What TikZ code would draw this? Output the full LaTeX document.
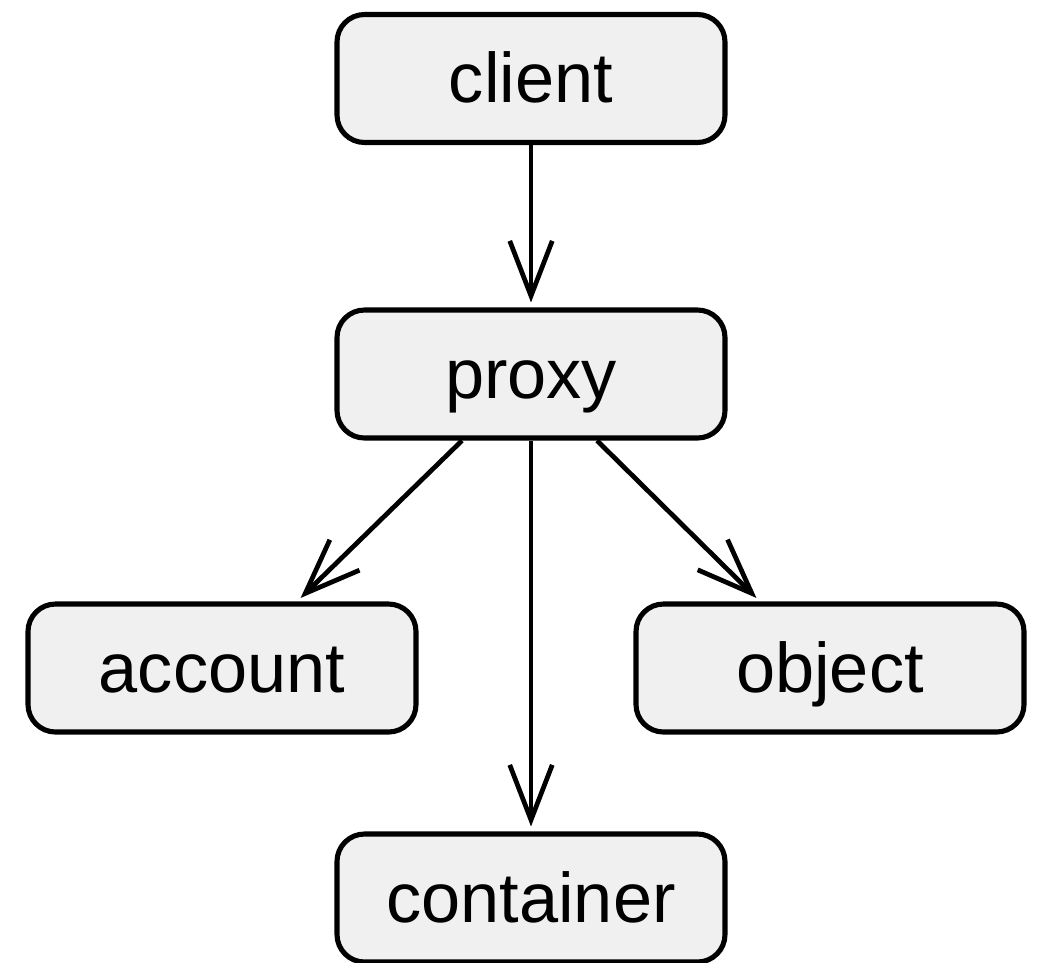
\documentclass[tikz,border=0pt]{standalone}
\usepackage{fontspec}
\setmainfont{Liberation Sans}
\usetikzlibrary{arrows.meta}
\definecolor{boxfill}{HTML}{F0F0F0}
\tikzset{
  box/.style={draw=black, fill=boxfill, line width=2.9pt, rounded corners=0.55cm,
    minimum width=7.76cm, minimum height=2.56cm, inner sep=0pt,
    font=\fontsize{40}{48}\selectfont, text height=37.4pt, text depth=10pt},
  conn/.style={line width=2.7pt, -{Straight Barb[length=1.1cm,width=0.85cm,line width=2.7pt]}, shorten >=0.1cm}
}
\begin{document}
\begin{tikzpicture}
\useasboundingbox (0,0) rectangle (20.76,-19.24);
\node[box] (client) at (10.62,-1.57) {client};
\node[box] (proxy) at (10.62,-7.48) {proxy};
\node[box] (account) at (4.44,-13.36) {account};
\node[box] (object) at (16.6,-13.36) {object};
\node[box] (container) at (10.62,-17.96) {container};
\draw[conn] (client.south) -- (proxy.north);
\draw[conn] ([xshift=-1.38cm]proxy.south) -- ([xshift=1.5cm]account.north);
\draw[conn] (proxy.south) -- (container.north);
\draw[conn] ([xshift=1.32cm]proxy.south) -- ([xshift=-1.4cm]object.north);
\end{tikzpicture}
\end{document}
